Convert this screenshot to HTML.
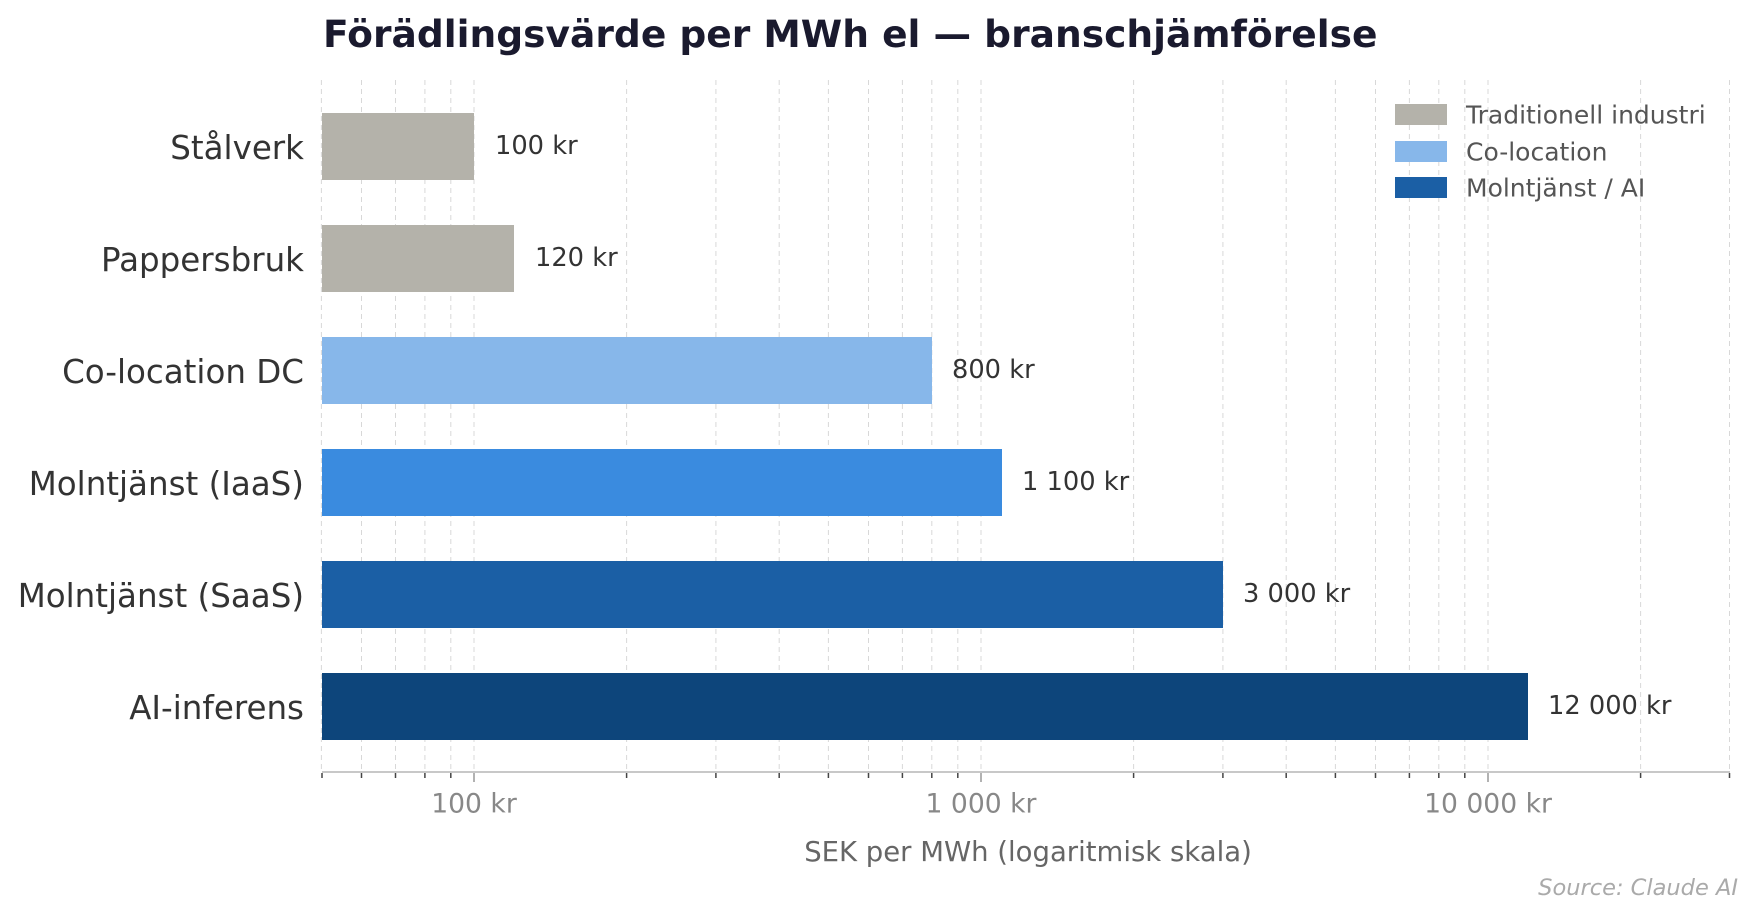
<!DOCTYPE html>
<html><head><meta charset="utf-8"><style>html,body{margin:0;padding:0;background:#fff}svg{display:block}</style></head>
<body>
<svg width="1755" height="917" viewBox="0 0 1755 917" xmlns="http://www.w3.org/2000/svg" font-family="'DejaVu Sans','Liberation Sans',sans-serif">
<rect width="1755" height="917" fill="#fff"/>
<text x="323" y="47" font-size="37.6" font-weight="bold" fill="#1a1a2e">Förädlingsvärde per MWh el — branschjämförelse</text>
<g stroke="#d8d8d8" stroke-width="1" stroke-dasharray="5,4">
<line x1="321.4" y1="80" x2="321.4" y2="772"/><line x1="361.5" y1="80" x2="361.5" y2="772"/><line x1="395.5" y1="80" x2="395.5" y2="772"/><line x1="424.9" y1="80" x2="424.9" y2="772"/><line x1="450.8" y1="80" x2="450.8" y2="772"/><line x1="474" y1="80" x2="474" y2="772"/>
<line x1="626.6" y1="80" x2="626.6" y2="772"/><line x1="715.9" y1="80" x2="715.9" y2="772"/><line x1="779.2" y1="80" x2="779.2" y2="772"/><line x1="828.4" y1="80" x2="828.4" y2="772"/><line x1="868.5" y1="80" x2="868.5" y2="772"/><line x1="902.4" y1="80" x2="902.4" y2="772"/><line x1="931.8" y1="80" x2="931.8" y2="772"/><line x1="957.8" y1="80" x2="957.8" y2="772"/><line x1="981" y1="80" x2="981" y2="772"/>
<line x1="1133.6" y1="80" x2="1133.6" y2="772"/><line x1="1222.9" y1="80" x2="1222.9" y2="772"/><line x1="1286.2" y1="80" x2="1286.2" y2="772"/><line x1="1335.4" y1="80" x2="1335.4" y2="772"/><line x1="1375.5" y1="80" x2="1375.5" y2="772"/><line x1="1409.4" y1="80" x2="1409.4" y2="772"/><line x1="1438.8" y1="80" x2="1438.8" y2="772"/><line x1="1464.8" y1="80" x2="1464.8" y2="772"/><line x1="1488" y1="80" x2="1488" y2="772"/>
<line x1="1640.6" y1="80" x2="1640.6" y2="772"/><line x1="1729.5" y1="80" x2="1729.5" y2="772"/>
</g>
<rect x="322" y="113" width="152" height="67" fill="#b4b2aa"/>
<rect x="322" y="225" width="192" height="67" fill="#b4b2aa"/>
<rect x="322" y="337" width="610" height="67" fill="#87b7ea"/>
<rect x="322" y="449" width="680" height="67" fill="#3a8bdf"/>
<rect x="322" y="561" width="901" height="67" fill="#1b5fa5"/>
<rect x="322" y="673" width="1206" height="67" fill="#0d457b"/>
<g font-size="25.7" fill="#333" dominant-baseline="central">
<text x="495" y="146">100 kr</text>
<text x="535" y="258">120 kr</text>
<text x="952" y="370">800 kr</text>
<text x="1022" y="482">1 100 kr</text>
<text x="1243" y="594">3 000 kr</text>
<text x="1548" y="706">12 000 kr</text>
</g>
<g font-size="32.5" fill="#333" text-anchor="end" dominant-baseline="central">
<text x="304" y="148">Stålverk</text>
<text x="304" y="260">Pappersbruk</text>
<text x="304" y="372">Co-location DC</text>
<text x="304" y="484">Molntjänst (IaaS)</text>
<text x="304" y="596">Molntjänst (SaaS)</text>
<text x="304" y="708">AI-inferens</text>
</g>
<line x1="322" y1="772" x2="1730" y2="772" stroke="#c8c8c8" stroke-width="2"/>
<g stroke="#444" stroke-width="1.5">
<line x1="322" y1="773" x2="322" y2="778"/><line x1="361.5" y1="773" x2="361.5" y2="778"/><line x1="395.5" y1="773" x2="395.5" y2="778"/><line x1="424.9" y1="773" x2="424.9" y2="778"/><line x1="450.8" y1="773" x2="450.8" y2="778"/>
<line x1="626.6" y1="773" x2="626.6" y2="778"/><line x1="715.9" y1="773" x2="715.9" y2="778"/><line x1="779.2" y1="773" x2="779.2" y2="778"/><line x1="828.4" y1="773" x2="828.4" y2="778"/><line x1="868.5" y1="773" x2="868.5" y2="778"/><line x1="902.4" y1="773" x2="902.4" y2="778"/><line x1="931.8" y1="773" x2="931.8" y2="778"/><line x1="957.8" y1="773" x2="957.8" y2="778"/>
<line x1="1133.6" y1="773" x2="1133.6" y2="778"/><line x1="1222.9" y1="773" x2="1222.9" y2="778"/><line x1="1286.2" y1="773" x2="1286.2" y2="778"/><line x1="1335.4" y1="773" x2="1335.4" y2="778"/><line x1="1375.5" y1="773" x2="1375.5" y2="778"/><line x1="1409.4" y1="773" x2="1409.4" y2="778"/><line x1="1438.8" y1="773" x2="1438.8" y2="778"/><line x1="1464.8" y1="773" x2="1464.8" y2="778"/>
<line x1="1640.6" y1="773" x2="1640.6" y2="778"/><line x1="1729.5" y1="773" x2="1729.5" y2="778"/>
</g>
<g stroke="#999" stroke-width="1.5">
<line x1="474" y1="773" x2="474" y2="782"/><line x1="981" y1="773" x2="981" y2="782"/><line x1="1488" y1="773" x2="1488" y2="782"/>
</g>
<g font-size="26.6" fill="#888" text-anchor="middle" dominant-baseline="central">
<text x="474" y="804">100 kr</text>
<text x="981" y="804">1 000 kr</text>
<text x="1488" y="804">10 000 kr</text>
</g>
<text x="1028" y="852" font-size="27.5" fill="#666" text-anchor="middle" dominant-baseline="central">SEK per MWh (logaritmisk skala)</text>
<text x="1738" y="888" font-size="22.5" fill="#aaa" font-style="italic" text-anchor="end" dominant-baseline="central">Source: Claude AI</text>
<rect x="1395" y="104" width="52" height="21" fill="#b4b2aa"/>
<rect x="1395" y="141" width="52" height="21" fill="#87b7ea"/>
<rect x="1395" y="177" width="52" height="21" fill="#1b5fa5"/>
<g font-size="25" fill="#555" dominant-baseline="central">
<text x="1466" y="115">Traditionell industri</text>
<text x="1466" y="152">Co-location</text>
<text x="1466" y="188">Molntjänst / AI</text>
</g>
</svg>
</body></html>
